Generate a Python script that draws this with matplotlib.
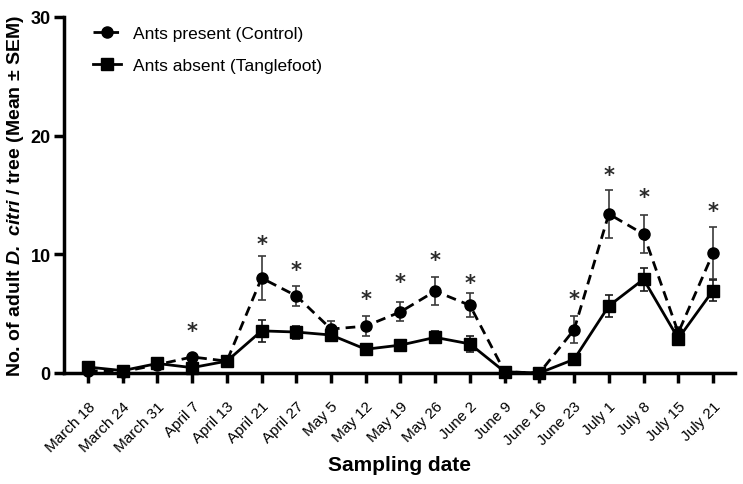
import numpy as np
import matplotlib
matplotlib.use('Agg')
import matplotlib.pyplot as plt

plt.rcParams['font.family'] = ['Liberation Sans', 'DejaVu Sans']
plt.rcParams['mathtext.fontset'] = 'custom'
plt.rcParams['mathtext.bfit'] = 'Liberation Sans:bold:italic'
plt.rcParams['mathtext.bf'] = 'Liberation Sans:bold'
plt.rcParams['mathtext.rm'] = 'Liberation Sans'

dates = ['March 18', 'March 24', 'March 31', 'April 7', 'April 13', 'April 21',
         'April 27', 'May 5', 'May 12', 'May 19', 'May 26', 'June 2', 'June 9',
         'June 16', 'June 23', 'July 1', 'July 8', 'July 15', 'July 21']

# ants present (control)
control = [0.2, 0.1, 0.7, 1.35, 1.0, 8.0, 6.5, 3.7, 3.95, 5.15, 6.9, 5.7, 0.1,
           0.0, 3.65, 13.4, 11.7, 3.4, 10.1]
control_sem = [0.1, 0.1, 0.15, 0.2, 0.2, 1.85, 0.85, 0.7, 0.85, 0.8, 1.2, 1.0, 0.05,
               0.0, 1.15, 2.0, 1.6, 0.5, 2.2]

# ants absent (tanglefoot)
tangle = [0.5, 0.2, 0.8, 0.45, 1.0, 3.55, 3.45, 3.2, 2.0, 2.35, 3.0, 2.45, 0.1,
          0.0, 1.15, 5.65, 7.9, 2.9, 6.95]
tangle_sem = [0.1, 0.1, 0.15, 0.15, 0.2, 0.9, 0.55, 0.4, 0.3, 0.3, 0.5, 0.7, 0.05,
              0.0, 0.15, 0.95, 0.95, 0.45, 0.9]

# significant dates and where the star sits
star_dates = ['April 7', 'April 21', 'April 27', 'May 12', 'May 19', 'May 26',
              'June 2', 'June 23', 'July 1', 'July 8', 'July 21']
star_y = [3.9, 11.2, 9.0, 6.6, 8.0, 9.9, 7.9, 6.6, 17.0, 15.2, 14.0]

x = np.arange(len(dates))

fig = plt.figure(figsize=(7.43, 4.85), dpi=100)
ax = fig.add_axes([0.0861, 0.2289, 0.903, 0.734])

ax.errorbar(x, control, yerr=control_sem, fmt='none', ecolor='#3a3a3a',
            elinewidth=1.2, capsize=3, capthick=1.2, zorder=2)
ax.errorbar(x, tangle, yerr=tangle_sem, fmt='none', ecolor='#1a1a1a',
            elinewidth=1.2, capsize=3, capthick=1.2, zorder=2)
ax.plot(x, control, color='black', linestyle=(0, (3.5, 2.2)), linewidth=2,
        marker='o', markersize=8, label='Ants present (Control)',
        clip_on=False, zorder=4)
ax.plot(x, tangle, color='black', linestyle='-', linewidth=2,
        marker='s', markersize=8, label='Ants absent (Tanglefoot)',
        clip_on=False, zorder=3)

for d, yy in zip(star_dates, star_y):
    ax.annotate('*', (dates.index(d), yy), xytext=(0, -3),
                textcoords='offset points', ha='center', va='center',
                fontsize=15, family='DejaVu Sans', fontweight='bold',
                color='#2a2a2a')

ax.set_xlim(-0.69, 18.63)
ax.set_ylim(0, 30)
ax.set_yticks([0, 10, 20, 30])
ax.set_xticks(x)
ax.set_xticklabels(dates, rotation=45, ha='right', rotation_mode='anchor',
                   fontsize=11)
for lab in ax.get_yticklabels():
    lab.set_fontweight('bold')
    lab.set_fontsize(13)

for s in ['top', 'right']:
    ax.spines[s].set_visible(False)
for s in ['left', 'bottom']:
    ax.spines[s].set_linewidth(2.5)
ax.tick_params(axis='both', width=2.5, length=7.5, direction='out')
ax.tick_params(axis='x', pad=11)
ax.tick_params(axis='y', pad=2)

ax.set_xlabel('Sampling date', fontsize=15, fontweight='bold', labelpad=1)
ax.set_ylabel(r'No. of adult $\mathbfit{D.}$ $\mathbfit{citri}$ / tree (Mean ± SEM)',
              fontsize=14, fontweight='bold', labelpad=3)

leg = ax.legend(loc='upper left', bbox_to_anchor=(0.02, 1.02), frameon=False,
                fontsize=12.5, handlelength=1.6, labelspacing=1.0,
                handletextpad=0.7)

plt.savefig('out.png', dpi=100)
